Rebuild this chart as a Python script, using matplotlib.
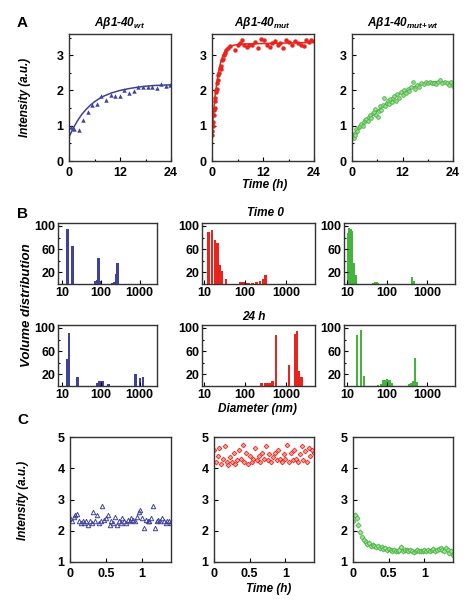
import matplotlib
matplotlib.use('Agg')
import matplotlib.pyplot as plt
from matplotlib.ticker import MultipleLocator, FixedLocator, NullLocator

plt.rcParams['font.family'] = ['Liberation Sans', 'DejaVu Sans']
plt.rcParams['font.weight'] = 'bold'
plt.rcParams['axes.labelweight'] = 'bold'
plt.rcParams['axes.titleweight'] = 'bold'
plt.rcParams['mathtext.fontset'] = 'custom'
plt.rcParams['mathtext.it'] = 'Liberation Sans:italic:bold'
plt.rcParams['mathtext.rm'] = 'Liberation Sans:bold'

BLUE = '#3f429c'
RED = '#e8241c'
GREEN = '#45b43d'

# --- panel A: kinetics over 24 h ---
wt_t = [0.4, 1.2, 2.3, 3.3, 4.4, 5.5, 6.6, 7.6, 8.7, 9.8, 10.9, 12.0, 13.0, 14.1, 15.2, 16.3,
        17.4, 18.5, 19.5, 20.6, 21.7, 22.8, 23.8]
wt_y = [0.95, 0.90, 0.88, 1.15, 1.38, 1.58, 1.62, 1.83, 1.73, 1.87, 1.83, 1.83, 2.00, 1.93, 1.98, 2.10,
        2.09, 2.10, 2.11, 2.08, 2.18, 2.13, 2.16]
wt_fit_t = [0, 1, 2, 3, 4, 5, 6, 7, 8, 10, 12, 14, 16, 18, 20, 22, 24]
wt_fit_y = [0.68, 0.93, 1.14, 1.32, 1.46, 1.58, 1.68, 1.76, 1.83, 1.93, 2.00, 2.05, 2.09, 2.12, 2.14, 2.15, 2.16]

mut_t = [0.05, 0.1, 0.2, 0.3, 0.4, 0.5, 0.6, 0.7, 0.8, 0.9, 1.0, 1.1, 1.2, 1.35, 1.5, 1.6, 1.8, 2.0,
         2.2, 2.4, 2.6, 2.8, 3.0, 3.3, 3.7, 4.2, 5.3, 6.0, 6.5, 7.0, 7.6, 8.2, 8.8, 9.5, 10.0, 10.8,
         11.5, 12.2, 12.9, 13.6, 14.2, 14.8, 15.5, 16.1, 16.8, 17.5, 18.2, 18.9, 19.6, 20.3, 21.0,
         21.6, 22.2, 22.8, 23.4, 23.9]
mut_y = [0.75, 0.85, 1.0, 1.1, 1.3, 1.45, 1.5, 1.7, 1.8, 1.95, 2.0, 2.05, 2.2, 2.3, 2.45, 2.5, 2.65, 2.6,
         2.7, 2.85, 2.9, 3.0, 3.05, 3.15, 3.2, 3.25, 3.14, 3.3, 3.35, 3.42, 3.3, 3.22, 3.28, 3.3, 3.38, 3.19,
         3.45, 3.42, 3.3, 3.24, 3.35, 3.4, 3.3, 3.35, 3.2, 3.42, 3.36, 3.3, 3.4, 3.35, 3.3,
         3.25, 3.42, 3.38, 3.44, 3.4]
mut_fit_t = [0, 0.25, 0.5, 0.75, 1, 1.5, 2, 2.5, 3, 3.5, 4, 5, 6, 8, 12, 16, 20, 24]
mut_fit_y = [0.72, 1.2, 1.55, 1.85, 2.1, 2.5, 2.78, 2.97, 3.1, 3.18, 3.23, 3.28, 3.3, 3.32, 3.33, 3.34, 3.35, 3.36]

mix_t = [0.2, 0.4, 0.6, 0.8, 1.0, 1.3, 1.6, 1.9, 2.2, 2.5, 2.8, 3.1, 3.4, 3.7, 4.0, 4.3, 4.6, 4.9,
         5.2, 5.5, 5.8, 6.1, 6.4, 6.7, 7.0, 7.3, 7.6, 7.9, 8.2, 8.5, 8.8, 9.1, 9.4, 9.7, 10.0, 10.4,
         10.8, 11.2, 11.6, 12.0, 12.4, 12.8, 13.2, 13.6, 14.0, 14.5, 15.0, 15.5, 16.0, 16.5, 17.0,
         17.5, 18.0, 18.5, 19.0, 19.5, 20.0, 20.5, 21.0, 21.5, 22.0, 22.5, 23.0, 23.5, 24.0]
mix_y = [0.72, 0.65, 0.8, 0.75, 0.9, 0.85, 0.95, 1.0, 1.05, 0.98, 1.1, 1.15, 1.2, 1.12, 1.25, 1.3, 1.22, 1.35,
         1.38, 1.48, 1.3, 1.25, 1.42, 1.55, 1.45, 1.6, 1.8, 1.55, 1.65, 1.7, 1.62, 1.75, 1.68, 1.78, 1.85, 1.7,
         1.9, 1.8, 1.95, 1.88, 2.0, 1.92, 2.05, 1.98, 2.1, 2.25, 2.05, 2.15, 2.1, 2.2, 2.18,
         2.25, 2.2, 2.25, 2.22, 2.2, 2.18, 2.25, 2.3, 2.2, 2.25, 2.2, 2.15, 2.25, 2.12]
mix_fit_t = [0, 2, 4, 6, 8, 10, 12, 14, 16, 18, 20, 22, 24]
mix_fit_y = [0.7, 0.95, 1.2, 1.42, 1.62, 1.8, 1.95, 2.07, 2.16, 2.22, 2.25, 2.24, 2.22]

# --- panel B: size distributions (diameter nm, volume %) ---
wt0_d = [14, 19, 72, 80, 88, 96, 200, 225, 250, 272]
wt0_v = [95, 66, 5, 7, 44, 6, 2, 4, 18, 36]
mut0_d = [13, 15.5, 18.5, 21.5, 24.5, 27, 35, 75, 85, 95, 110, 125, 150, 190, 230, 270, 310]
mut0_v = [90, 93, 75, 70, 32, 22, 9, 3, 4, 3, 2, 2, 2, 3, 5, 8, 16]
mix0_d = [10.5, 11.3, 12.2, 13.2, 14.5, 16.5, 45, 50, 55, 60, 420, 460]
mix0_v = [88, 97, 95, 91, 37, 15, 2, 4, 4, 2, 12, 5]

wt24_d = [13.4, 15.5, 25.5, 80, 90, 102, 115, 160, 790, 1040, 1250]
wt24_v = [47, 92, 15, 5, 8, 9, 8, 4, 20, 13, 15]
mut24_d = [250, 300, 350, 400, 460, 550, 1150, 1600, 1820, 2050, 2330]
mut24_v = [6, 5, 5, 6, 9, 87, 37, 89, 95, 25, 16]
mix24_d = [18, 22, 27, 60, 70, 80, 90, 100, 115, 130, 350, 400, 450, 500, 560]
mix24_v = [88, 97, 18, 2, 4, 10, 11, 12, 10, 5, 3, 5, 8, 48, 7]

# --- panel C: short time course ---
c_time = [0.00, 0.025, 0.05, 0.075, 0.10, 0.125, 0.15, 0.175, 0.20, 0.225,
          0.25, 0.275, 0.30, 0.325, 0.35, 0.375, 0.40, 0.425, 0.45, 0.475,
          0.50, 0.525, 0.55, 0.575, 0.60, 0.625, 0.65, 0.675, 0.70, 0.725,
          0.75, 0.775, 0.80, 0.825, 0.85, 0.875, 0.90, 0.925, 0.95, 0.975,
          1.00, 1.025, 1.05, 1.075, 1.10, 1.125, 1.15, 1.175, 1.20, 1.225,
          1.25, 1.275, 1.30, 1.325, 1.35, 1.375, 1.40]
c_wt = [2.40, 2.30, 2.45, 2.50, 2.55, 2.30, 2.25, 2.30, 2.25, 2.30,
        2.20, 2.30, 2.25, 2.60, 2.30, 2.50, 2.25, 2.30, 2.80, 2.35,
        2.40, 2.50, 2.20, 2.30, 2.25, 2.45, 2.20, 2.30, 2.25, 2.40,
        2.30, 2.25, 2.35, 2.30, 2.40, 2.35, 2.30, 2.45, 2.60, 2.65,
        2.40, 2.10, 2.35, 2.30, 2.30, 2.40, 2.80, 2.10, 2.30, 2.35,
        2.30, 2.40, 2.30, 2.25, 2.30, 2.30, 2.25]
c_mut = [4.60, 4.20, 4.40, 4.65, 4.15, 4.30, 4.70, 4.20, 4.10, 4.35,
         4.20, 4.50, 4.15, 4.25, 4.60, 4.30, 4.75, 4.20, 4.50, 4.15,
         4.40, 4.20, 4.30, 4.65, 4.25, 4.40, 4.20, 4.50, 4.30, 4.70,
         4.25, 4.45, 4.20, 4.35, 4.50, 4.25, 4.60, 4.30, 4.20, 4.45,
         4.30, 4.75, 4.20, 4.50, 4.25, 4.60, 4.30, 4.20, 4.45, 4.70,
         4.25, 4.55, 4.20, 4.65, 4.40, 4.60, 4.50]
c_mix = [2.30, 2.50, 2.40, 2.20, 1.95, 1.80, 1.70, 1.65, 1.58, 1.60,
         1.52, 1.55, 1.50, 1.48, 1.52, 1.45, 1.48, 1.42, 1.46, 1.40,
         1.42, 1.38, 1.36, 1.40, 1.34, 1.36, 1.38, 1.48, 1.35, 1.40,
         1.37, 1.34, 1.38, 1.36, 1.32, 1.36, 1.38, 1.34, 1.36, 1.34,
         1.38, 1.36, 1.40, 1.34, 1.38, 1.42, 1.36, 1.40, 1.43, 1.46,
         1.40, 1.34, 1.44, 1.38, 1.30, 1.36, 1.24]

titles = ['A\u03b21-40$_{wt}$', 'A\u03b21-40$_{mut}$', 'A\u03b21-40$_{mut\\!+\\!wt}$']

W, H = 475, 600
fig = plt.figure(figsize=(W / 100, H / 100), dpi=100)


def px_axes(x0, x1, y0, y1):
    # axes from pixel box (top-left origin)
    return fig.add_axes([x0 / W, 1 - y1 / H, (x1 - x0) / W, (y1 - y0) / H])


def style(ax, size=9, pad=4):
    for s in ax.spines.values():
        s.set_linewidth(1.0)
        s.set_color('#333333')
    ax.tick_params(which='both', direction='in', top=False, right=False,
                   labelsize=size, width=0.8, pad=pad)
    ax.tick_params(which='major', length=3)
    ax.tick_params(which='minor', length=1.5)


def label(x, y, s, size=8.5, rot=0):
    fig.text(x / W, 1 - y / H, s, rotation=rot, fontsize=size, style='italic',
             fontweight='bold', ha='center', va='center')


# panel A
colsA = [(69, 171), (212, 314), (352, 453)]
axA = [px_axes(x0, x1, 34, 161) for x0, x1 in colsA]
axA[0].plot(wt_fit_t, wt_fit_y, '-', color=BLUE, lw=1.1)
axA[0].plot(wt_t, wt_y, '^', color=BLUE, ms=3.2, mew=0)
axA[1].plot(mut_fit_t, mut_fit_y, '-', color=RED, lw=1.1)
axA[1].plot(mut_t, mut_y, 'o', color=RED, ms=3.2, mew=0)
axA[2].plot(mix_fit_t, mix_fit_y, '-', color=GREEN, lw=1.1)
axA[2].plot(mix_t, mix_y, 'o', mfc='#9ddc96', mec=GREEN, ms=2.6, mew=0.6)
for ax, title in zip(axA, titles):
    style(ax)
    ax.set_xlim(0, 24)
    ax.set_ylim(0, 3.6)
    ax.set_xticks([0, 12, 24])
    ax.xaxis.set_minor_locator(MultipleLocator(6))
    ax.set_yticks([0, 1, 2, 3])
    ax.yaxis.set_minor_locator(MultipleLocator(0.5))
    ax.set_title(title, fontsize=8.5, style='italic', fontweight='bold', pad=6)

# panel B
colsB = [(58, 157), (202, 315), (344, 455)]
xlimsB = [(8, 2800), (9, 4900), (8.4, 5000)]
rowsB = [(223, 284), (325, 386)]
bar_data = [[(wt0_d, wt0_v, BLUE), (mut0_d, mut0_v, RED), (mix0_d, mix0_v, GREEN)],
            [(wt24_d, wt24_v, BLUE), (mut24_d, mut24_v, RED), (mix24_d, mix24_v, GREEN)]]
for r, (y0, y1) in enumerate(rowsB):
    for c, (x0, x1) in enumerate(colsB):
        ax = px_axes(x0, x1, y0, y1)
        d, v, col = bar_data[r][c]
        ax.bar(d, v, width=[x * 0.13 for x in d], color=col, linewidth=0)
        ax.set_xscale('log')
        ax.set_xlim(*xlimsB[c])
        ax.set_ylim(0, 105)
        ax.set_xticks([10, 100, 1000])
        ax.set_xticklabels(['10', '100', '1000'])
        ax.xaxis.set_minor_locator(NullLocator())
        ax.set_yticks([20, 60, 100])
        ax.yaxis.set_minor_locator(FixedLocator([40, 80]))
        style(ax, 9, pad=2)

# panel C
colsC = [(70, 171), (214, 314), (353, 453)]
axC = [px_axes(x0, x1, 437, 562) for x0, x1 in colsC]
axC[0].plot(c_time, c_wt, '^', mfc='none', mec=BLUE, ms=3.2, mew=0.7)
axC[1].plot(c_time, c_mut, 'D', mfc='#f6a39c', mec=RED, ms=2.4, mew=0.6)
axC[2].plot(c_time, c_mix, 'D', mfc='#a6e09f', mec=GREEN, ms=2.6, mew=0.6)
for ax in axC:
    style(ax)
    ax.set_xlim(0, 1.4)
    ax.set_ylim(1, 5)
    ax.set_xticks([0, 0.5, 1])
    ax.set_xticklabels(['0', '0.5', '1'])
    ax.set_yticks([1, 2, 3, 4, 5])

# shared labels and panel letters
for letter, y in [('A', 23), ('B', 214), ('C', 420)]:
    fig.text(17 / W, 1 - y / H, letter, fontsize=11, fontweight='bold', ha='left', va='center')
label(25, 97, 'Intensity (a.u.)', rot=90)
label(27, 305, 'Volume distribution', size=9.5, rot=90)
label(23, 500, 'Intensity (a.u.)', rot=90)
label(265, 185, 'Time (h)')
label(265, 213, 'Time 0')
label(254, 317, '24 h')
label(257, 409, 'Diameter (nm)')
label(269, 589, 'Time (h)')

fig.savefig('out.png', dpi=100, facecolor='white')
